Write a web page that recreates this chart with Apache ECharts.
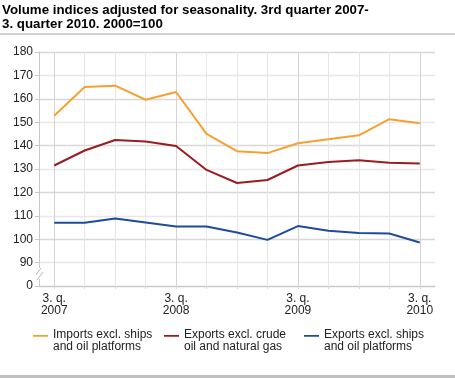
<!DOCTYPE html>
<html><head><meta charset="utf-8">
<script src="https://cdn.jsdelivr.net/npm/echarts@6/dist/echarts.min.js"></script>
<style>html,body{margin:0;padding:0;background:#fff}#c{width:455px;height:378px}</style>
</head><body><div id="c"></div>
<script>
const categories = ['3. q.\n2007','','','','3. q.\n2008','','','','3. q.\n2009','','','','3. q.\n2010'];
const imports = [152.8, 165.0, 165.6, 159.6, 162.9, 145.0, 137.6, 136.8, 141.0, 142.7, 144.4, 151.3, 149.6];
const exportsExclCrude = [131.5, 137.9, 142.4, 141.8, 139.8, 129.6, 124.0, 125.3, 131.5, 133.0, 133.7, 132.7, 132.4];
const exportsExclShips = [107.0, 107.0, 108.8, 107.1, 105.4, 105.4, 102.9, 99.7, 105.6, 103.6, 102.7, 102.4, 98.6];
const seriesNames = ['Imports excl. ships\nand oil platforms','Exports excl. crude\noil and natural gas','Exports excl. ships\nand oil platforms'];
const colors = ['#f7a030','#9b1b22','#1f4b9c'];
const font = 'Liberation Sans, Arial, sans-serif';
const chart = echarts.init(document.getElementById('c'), null, {renderer:'canvas'});
const iconPath = 'path://M0,0L16,0L16,2L0,2Z M0,13L0.01,13L0,13Z';
const legendLefts = [33, 164, 304];
const legendCommon = {top:329,padding:0,itemWidth:15,itemHeight:13,icon:iconPath,
  textStyle:{fontFamily:font,fontSize:12,color:'#222',lineHeight:12}};
chart.setOption({
  animation:false,
  color: colors,
  title:{text:'Volume indices adjusted for seasonality. 3rd quarter 2007-\n3. quarter 2010. 2000=100', left:2, top:4, padding:0,
    textStyle:{fontFamily:font,fontSize:13.3,fontWeight:'bold',color:'#000',lineHeight:13.5}},
  grid:{left:39,right:20,top:52,bottom:92},
  legend: seriesNames.map((n,i)=>Object.assign({}, legendCommon, {left:legendLefts[i], data:[n]})),
  xAxis:{type:'category',data:categories,boundaryGap:true,
    axisLine:{lineStyle:{color:'#c8c8c8'}},
    axisTick:{show:true,alignWithLabel:true,interval:0,length:3,lineStyle:{color:'#d8d8d8'}},
    axisLabel:{interval:0,fontFamily:font,fontSize:12,color:'#222',lineHeight:12,margin:7},
    splitLine:{show:true,alignWithLabel:true,interval:0,lineStyle:{color:['#d4d4d4','#e6e6e6','#e6e6e6','#e6e6e6'],width:1}}},
  yAxis:{type:'value',min:80,max:180,interval:10,
    axisLine:{show:true,lineStyle:{color:'#c8c8c8'}},
    axisTick:{show:true,length:4,lineStyle:{color:'#c8c8c8'}},
    axisLabel:{fontFamily:font,fontSize:12,color:'#222',margin:6,formatter:v=>v===80?'0':String(v)},
    splitLine:{show:true,lineStyle:{color:['#cccccc','#e8e8e8','#d8d8d8','#e8e8e8','#d8d8d8','#e8e8e8','#d8d8d8','#e8e8e8','#d8d8d8','#e8e8e8','#d8d8d8'],width:1.4}}},
  series:[
    {name:seriesNames[0],type:'line',data:imports,symbol:'none',lineStyle:{width:2},color:colors[0]},
    {name:seriesNames[1],type:'line',data:exportsExclCrude,symbol:'none',lineStyle:{width:2},color:colors[1]},
    {name:seriesNames[2],type:'line',data:exportsExclShips,symbol:'none',lineStyle:{width:2},color:colors[2]}
  ],
  graphic:[
    {type:'line',shape:{x1:0,y1:34,x2:455,y2:34},style:{stroke:'#c0c0c0',lineWidth:1.5}},
    {type:'line',shape:{x1:0,y1:376.5,x2:455,y2:376.5},style:{stroke:'#c0c0c0',lineWidth:3}},
    {type:'rect',shape:{x:37,y:268,width:4,height:11},style:{fill:'#fff'},z:100},
    {type:'line',shape:{x1:36,y1:275,x2:41,y2:268},style:{stroke:'#bbb',lineWidth:1},z:101},
    {type:'line',shape:{x1:37,y1:280,x2:43,y2:272},style:{stroke:'#bbb',lineWidth:1},z:101}
  ]
});
</script></body></html>
